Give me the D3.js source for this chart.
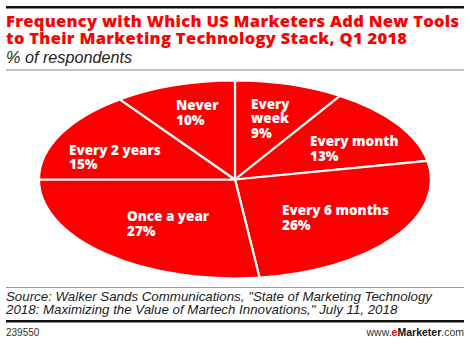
<!DOCTYPE html>
<html>
<head>
<meta charset="utf-8">
<script src="https://cdn.jsdelivr.net/npm/d3@7"></script>
<style>
  html, body { margin: 0; padding: 0; background: #fff; }
  svg { display: block; }
</style>
</head>
<body>
<svg id="chart" width="470" height="344"></svg>
<script>
// Survey answers, clockwise from 12 o'clock
const categories = ["Every week", "Every month", "Every 6 months", "Once a year", "Every 2 years", "Never"];
const labelLines = [["Every", "week"], ["Every month"], ["Every 6 months"], ["Once a year"], ["Every 2 years"], ["Never"]];
const values = [9, 13, 26, 27, 15, 10];

const titleLines = ["Frequency with Which US Marketers Add New Tools", "to Their Marketing Technology Stack, Q1 2018"];
const subtitle = "% of respondents";
const sourceLines = [
  "Source: Walker Sands Communications, \"State of Marketing Technology",
  "2018: Maximizing the Value of Martech Innovations,\" July 11, 2018"
];
const chartId = "239550";

// Left edge and first baseline of each slice label
const labelAnchors = [[251, 108.5], [310, 146], [282, 215], [127, 221], [69, 154.5], [176, 110]];

const RED = "#fa0000";
const W = 470;
const svg = d3.select("#chart");
const heavy = "'Open Sans', 'DejaVu Sans', sans-serif";
const light = "'Liberation Sans', Arial, sans-serif";

// Header
svg.append("rect").attr("x", 6).attr("y", 6).attr("width", W - 12).attr("height", 2.5).attr("fill", "#111");
svg.append("g").selectAll("text").data(titleLines).join("text")
  .attr("x", 6).attr("y", (d, i) => 26.5 + i * 17)
  .attr("font-family", heavy).attr("font-weight", 800).attr("font-size", 16.5)
  .attr("letter-spacing", 0.3)
  .attr("fill", RED).text(d => d);
svg.append("text").attr("x", 6).attr("y", 63)
  .attr("font-family", light).attr("font-style", "italic").attr("font-size", 16.2)
  .attr("fill", "#222").text(subtitle);
svg.append("rect").attr("x", 6).attr("y", 69.5).attr("width", W - 12).attr("height", 1).attr("fill", "#888");

// Elliptical pie: a circular pie stretched horizontally
const cx = 235, cy = 179.5, rx = 196, ry = 99;
const pie = d3.pie().sort(null).value(d => d)(values);
const arc = d3.arc().innerRadius(0).outerRadius(ry);
const g = svg.append("g").attr("transform", `translate(${cx},${cy}) scale(${rx / ry},1)`);
g.selectAll("path").data(pie).join("path")
  .attr("d", arc)
  .attr("fill", RED)
  .attr("stroke", "#fff")
  .attr("stroke-width", 2.2)
  .attr("stroke-linejoin", "round")
  .attr("vector-effect", "non-scaling-stroke");

// Slice labels
const lg = svg.append("g").attr("font-family", heavy).attr("font-weight", 800)
  .attr("font-size", 13.5).attr("fill", "#fff");
pie.forEach((p, i) => {
  const [x, y] = labelAnchors[i];
  const lines = labelLines[i].concat([values[i] + "%"]);
  const t = lg.append("text").attr("x", x).attr("y", y);
  lines.forEach((s, j) => {
    t.append("tspan").attr("x", x).attr("y", y + j * 14.6).text(s);
  });
});

// Footer
svg.append("rect").attr("x", 6).attr("y", 287).attr("width", W - 12).attr("height", 1).attr("fill", "#999");
svg.append("g").selectAll("text").data(sourceLines).join("text")
  .attr("x", 6).attr("y", (d, i) => 301 + i * 13)
  .attr("font-family", light).attr("font-style", "italic").attr("font-size", 13.3)
  .attr("fill", "#222").text(d => d);
svg.append("rect").attr("x", 6).attr("y", 320).attr("width", W - 12).attr("height", 2.5).attr("fill", "#111");
svg.append("text").attr("x", 6).attr("y", 336)
  .attr("font-family", light).attr("font-size", 10).attr("fill", "#333").text(chartId);
const site = svg.append("text").attr("x", W - 6).attr("y", 336).attr("text-anchor", "end")
  .attr("font-family", light).attr("font-size", 10.5).attr("fill", "#333");
site.append("tspan").text("www.");
site.append("tspan").attr("fill", RED).attr("font-weight", 700).text("e");
site.append("tspan").attr("font-weight", 700).attr("fill", "#111").text("Marketer");
site.append("tspan").text(".com");
</script>
</body>
</html>
